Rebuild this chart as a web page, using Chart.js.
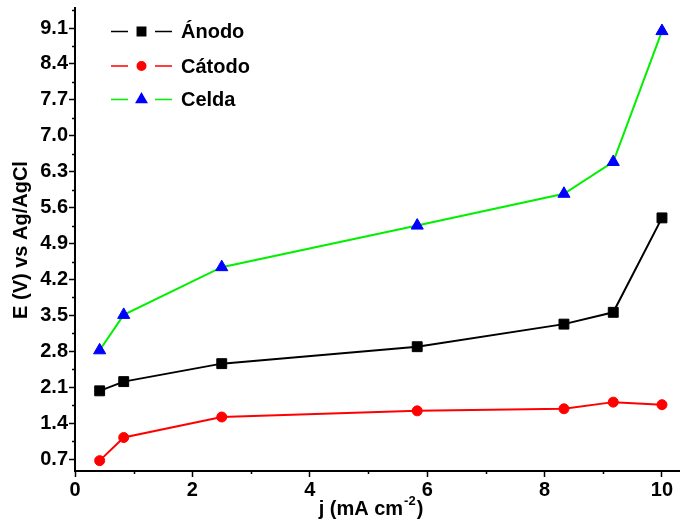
<!DOCTYPE html>
<html>
<head>
<meta charset="utf-8">
<script src="https://cdn.jsdelivr.net/npm/chart.js@4.4.1/dist/chart.umd.min.js"></script>
<style>
  body { margin: 0; background: #fff; }
  canvas { display: block; }
</style>
</head>
<body>
<canvas id="grafico" width="687" height="523"></canvas>
<script>
// densidade de corrente (mA cm-2)
const jValues = [0.42, 0.83, 2.5, 5.83, 8.33, 9.17, 10];
// potenciais (V vs Ag/AgCl)
const anodo = [2.03, 2.21, 2.56, 2.89, 3.33, 3.56, 5.40];
const catodo = [0.67, 1.12, 1.52, 1.64, 1.68, 1.81, 1.76];
const celda = [2.82, 3.51, 4.44, 5.25, 5.87, 6.49, 9.04];

const seriesNames = ["Ánodo", "Cátodo", "Celda"];
const yTicks = [0.7, 1.4, 2.1, 2.8, 3.5, 4.2, 4.9, 5.6, 6.3, 7.0, 7.7, 8.4, 9.1];
const xTicks = [0, 2, 4, 6, 8, 10];
const yMinor = [1.05, 1.75, 2.45, 3.15, 3.85, 4.55, 5.25, 5.95, 6.65, 7.35, 8.05, 8.75, 9.45];
const xMinor = [1, 3, 5, 7, 9];

const fonte = "'Liberation Sans', Arial, sans-serif";

function pares(ys) {
  return jValues.map((x, i) => ({ x: x, y: ys[i] }));
}

function serie(label, data, lineColor, pointColor, style, radius) {
  return {
    label: label,
    data: pares(data),
    borderColor: lineColor,
    backgroundColor: pointColor,
    borderWidth: 2,
    pointStyle: style,
    pointRadius: radius,
    pointHoverRadius: radius,
    pointBackgroundColor: pointColor,
    pointBorderColor: pointColor,
    pointBorderWidth: 1,
    tension: 0,
  };
}

// legenda desenhada à mão: linha - marcador - linha
const legendaPlugin = {
  id: "legenda",
  afterDraw(chart) {
    const ctx = chart.ctx;
    const rows = [31.5, 66, 99.5];
    chart.data.datasets.forEach((ds, i) => {
      const y = rows[i];
      ctx.save();
      ctx.strokeStyle = ds.borderColor;
      ctx.lineWidth = 1.5;
      ctx.beginPath();
      ctx.moveTo(111, y);
      ctx.lineTo(128, y);
      ctx.moveTo(155, y);
      ctx.lineTo(172, y);
      ctx.stroke();
      ctx.fillStyle = ds.pointBackgroundColor;
      ctx.strokeStyle = ds.pointBorderColor;
      Chart.helpers.drawPoint(ctx, {
        pointStyle: ds.pointStyle,
        radius: ds.pointRadius * 0.85,
        rotation: 0,
        borderWidth: 1,
      }, 141.5, y);
      ctx.fillStyle = "#000";
      ctx.font = "bold 20px " + fonte;
      ctx.textAlign = "left";
      ctx.textBaseline = "middle";
      ctx.fillText(ds.label, 181, y + 1);
      ctx.restore();
    });
  },
};

// títulos dos eixos e ticks menores
const eixosPlugin = {
  id: "eixos",
  afterDraw(chart) {
    const ctx = chart.ctx;
    const xs = chart.scales.x;
    const ys = chart.scales.y;
    ctx.save();
    ctx.strokeStyle = "#000";
    ctx.lineWidth = 1.5;
    ctx.beginPath();
    yMinor.forEach((v) => {
      if (v > ys.max) return;
      const p = Math.round(ys.getPixelForValue(v)) + 0.5;
      ctx.moveTo(xs.left - 3, p);
      ctx.lineTo(xs.left, p);
    });
    xMinor.forEach((v) => {
      const p = Math.round(xs.getPixelForValue(v)) + 0.5;
      ctx.moveTo(p, ys.bottom);
      ctx.lineTo(p, ys.bottom + 3);
    });
    ctx.stroke();

    ctx.fillStyle = "#000";
    ctx.font = "bold 20px " + fonte;
    ctx.textBaseline = "alphabetic";

    // eixo x com expoente
    const t1 = "j (mA cm";
    const t2 = ")";
    const sup = "-2";
    const w1 = ctx.measureText(t1).width;
    const w2 = ctx.measureText(t2).width;
    ctx.font = "bold 13px " + fonte;
    const ws = ctx.measureText(sup).width;
    const total = w1 + ws + w2;
    let x0 = 370 - total / 2;
    const base = 515;
    ctx.font = "bold 20px " + fonte;
    ctx.textAlign = "left";
    ctx.fillText(t1, x0, base);
    ctx.font = "bold 13px " + fonte;
    ctx.fillText(sup, x0 + w1 + 1, base - 10);
    ctx.font = "bold 20px " + fonte;
    ctx.fillText(t2, x0 + w1 + ws + 2, base);

    // eixo y
    ctx.translate(21, 240);
    ctx.rotate(-Math.PI / 2);
    ctx.textAlign = "center";
    ctx.textBaseline = "middle";
    ctx.fillText("E (V) vs Ag/AgCl", 0, 0);
    ctx.restore();
  },
};

new Chart(document.getElementById("grafico"), {
  type: "line",
  data: {
    datasets: [
      serie(seriesNames[0], anodo, "#000000", "#000000", "rect", 7),
      serie(seriesNames[1], catodo, "#ff0000", "#ff0000", "circle", 5),
      serie(seriesNames[2], celda, "#00f000", "#0000ff", "triangle", 7),
    ],
  },
  options: {
    responsive: false,
    animation: false,
    layout: { padding: { top: 5, right: 1, left: 0, bottom: 0 } },
    plugins: {
      legend: { display: false },
      tooltip: { enabled: false },
    },
    scales: {
      x: {
        type: "linear",
        min: 0,
        max: 10.29,
        afterFit(scale) {
          scale.height = 52;
          scale.paddingLeft = 0;
          scale.paddingRight = 0;
        },
        afterBuildTicks(scale) {
          scale.ticks = xTicks.map((v) => ({ value: v }));
        },
        border: { color: "#000", width: 2 },
        grid: {
          drawOnChartArea: false,
          drawTicks: true,
          tickLength: 6,
          tickColor: "#000",
          tickWidth: 1.5,
        },
        ticks: {
          color: "#000",
          padding: 1,
          maxRotation: 0,
          font: { family: fonte, size: 20, weight: "bold" },
        },
      },
      y: {
        type: "linear",
        min: 0.468,
        max: 9.49,
        afterFit(scale) {
          scale.width = 75;
          scale.paddingTop = 0;
          scale.paddingBottom = 0;
        },
        afterBuildTicks(scale) {
          scale.ticks = yTicks.map((v) => ({ value: v }));
        },
        border: { color: "#000", width: 2 },
        grid: {
          drawOnChartArea: false,
          drawTicks: true,
          tickLength: 6,
          tickColor: "#000",
          tickWidth: 1.5,
        },
        ticks: {
          color: "#000",
          padding: 1,
          font: { family: fonte, size: 20, weight: "bold" },
          callback: (v) => Number(v).toFixed(1),
        },
      },
    },
  },
  plugins: [legendaPlugin, eixosPlugin],
});
</script>
</body>
</html>
